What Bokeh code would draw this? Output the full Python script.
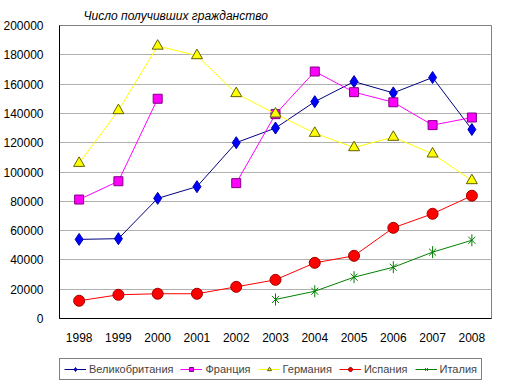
import math
from bokeh.plotting import figure
from bokeh.layouts import column
from bokeh.models import (Range1d, FixedTicker, BasicTickFormatter, Legend, LegendItem,
                          ColumnDataSource)
from bokeh.embed import file_html
from bokeh.resources import INLINE

years = [1998, 1999, 2000, 2001, 2002, 2003, 2004, 2005, 2006, 2007, 2008]
uk = [54000, 54500, 82000, 90000, 120000, 130000, 148000, 161700, 154000, 164500, 129000]
france = [81200, 93700, 150000, None, 92400, 139500, 168600, 154500, 147600, 132000, 137200]
germany = [106000, 142000, 186000, 179500, 153600, 139700, 126500, 116700, 123800, 112400, 94200]
spain = [12100, 16200, 16900, 16900, 21600, 26400, 38000, 42800, 61900, 71500, 83800]
italy = [None, None, None, None, None, 13000, 18600, 28200, 35000, 45300, 53400]
y_ticks = [0, 20000, 40000, 60000, 80000, 100000, 120000, 140000, 160000, 180000, 200000]
title_text = "Число получивших гражданство"
names = ["Великобритания", "Франция", "Германия", "Испания", "Италия"]

FONT = "Liberation Sans"

STYLES = [
    dict(line="#000080", marker="diamond", size=12, fill="#0000ff", edge="#0000b0"),
    dict(line="#ff00ff", marker="square", size=9, fill="#ff00ff", edge="#800080"),
    dict(line="#ffff00", marker="triangle", size=11, fill="#ffff00", edge="#606000"),
    dict(line="#ff0000", marker="circle", size=11, fill="#ff0000", edge="#a00000"),
    dict(line="#008000", marker="star6", size=10, fill=None, edge="#008000"),
]


def nan(vals):
    return [float("nan") if v is None else v for v in vals]


def draw(fig, src, st, scale=1.0):
    rl = fig.line("x", "y", source=src, line_color=st["line"], line_width=1)
    if st["marker"] == "star6":
        r1 = fig.scatter("x", "y", source=src, marker="x", size=10 * scale, line_color=st["edge"])
        r2 = fig.scatter("x", "y", source=src, marker="dash", size=12 * scale, angle=math.pi / 2,
                         line_color=st["edge"])
        return [rl, r1, r2]
    rm = fig.scatter("x", "y", source=src, marker=st["marker"], size=st["size"] * scale,
                     fill_color=st["fill"], line_color=st["edge"])
    return [rl, rm]


p = figure(width=497, height=351, output_backend="svg", toolbar_location=None,
           x_range=Range1d(1997.5, 2008.5), y_range=Range1d(0, 200000),
           min_border_left=52, min_border_right=6, min_border_top=25, min_border_bottom=33,
           title=title_text)
p.title.text_font = FONT
p.title.text_font_size = "12px"
p.title.text_font_style = "italic"
p.title.text_color = "black"
p.title.align = "left"
p.title.offset = 24
p.title.standoff = 5
p.background_fill_color = "white"
p.border_fill_color = "white"
p.outline_line_color = "#808080"
p.outline_line_width = 1

p.xaxis.ticker = FixedTicker(ticks=years)
p.yaxis.ticker = FixedTicker(ticks=y_ticks)
p.yaxis.formatter = BasicTickFormatter(use_scientific=False)
p.xaxis.formatter = BasicTickFormatter(use_scientific=False)
for ax in (p.xaxis, p.yaxis):
    ax.axis_line_color = "black"
    ax.major_tick_line_color = None
    ax.minor_tick_line_color = None
    ax.major_label_text_font = FONT
    ax.major_label_text_font_size = "12px"
    ax.major_label_text_color = "black"
p.xaxis.major_label_standoff = 8
p.yaxis.major_label_standoff = 10
p.xgrid.grid_line_color = None
p.ygrid.grid_line_color = "#b0b0b0"

sources = [ColumnDataSource(dict(x=years, y=nan(v))) for v in [uk, france, germany, spain, italy]]
for src, st in zip(sources, STYLES):
    draw(p, src, st)

# Legend strip below the chart (its own figure; its data falls outside its ranges)
lg = figure(width=497, height=36, output_backend="svg", toolbar_location=None,
            x_axis_type=None, y_axis_type=None, x_range=Range1d(0, 1), y_range=Range1d(0, 1),
            min_border_left=52, min_border_right=6, min_border_top=0, min_border_bottom=0)
lg.outline_line_color = None
lg.background_fill_color = "white"
lg.border_fill_color = "white"
lg.xgrid.visible = False
lg.ygrid.visible = False
items = []
for name, src, st in zip(names, sources, STYLES):
    rs = draw(lg, src, st, scale=0.7)
    items.append(LegendItem(label=name, renderers=rs, index=len(years) - 1))

legend = Legend(items=items, orientation="horizontal", location=(0, 7),
                label_text_font=FONT, label_text_font_size="11px",
                glyph_width=22, glyph_height=10, label_height=10,
                label_standoff=3, spacing=7, padding=4, margin=0,
                border_line_color="black", border_line_width=1,
                background_fill_color="white")
lg.add_layout(legend)

layout = column(p, lg, spacing=0)
open("out.html", "w").write(file_html(layout, INLINE))
